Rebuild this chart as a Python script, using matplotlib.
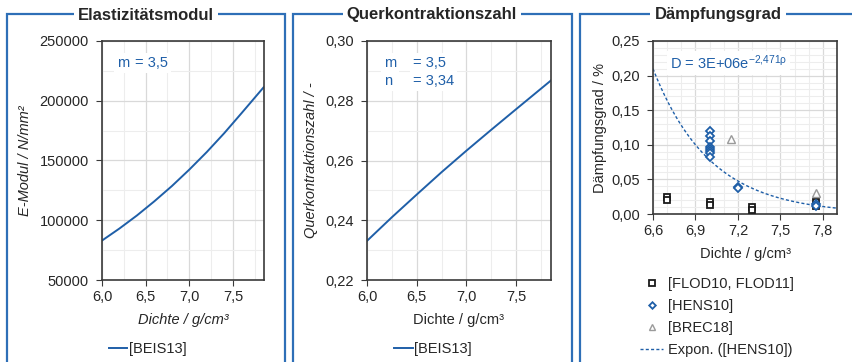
import matplotlib.pyplot as plt
import numpy as np
from matplotlib.patches import Rectangle
from matplotlib.ticker import FuncFormatter, MultipleLocator

plt.rcParams["font.family"] = ["Liberation Sans", "DejaVu Sans"]
plt.rcParams["font.size"] = 10.5
plt.rcParams["mathtext.fontset"] = "custom"
plt.rcParams["mathtext.rm"] = "Liberation Sans"
plt.rcParams["mathtext.it"] = "Liberation Sans:italic"

BLUE = "#1F5FA8"
FRAME = "#2E6FB7"
TEXT = "#262626"
SPINE = "#3A3A3A"

# E-Modul over density (m = 3,5)
density_e = [6.0, 6.2, 6.4, 6.6, 6.8, 7.0, 7.2, 7.4, 7.6, 7.85]
e_modul = [83000, 93100, 104000, 115900, 128600, 142400, 157100, 172900, 189800, 211200]

# Poisson ratio over density
density_nu = [6.0, 6.25, 6.5, 6.75, 7.0, 7.25, 7.5, 7.85]
poisson = [0.2331, 0.2410, 0.2486, 0.2561, 0.2633, 0.2703, 0.2772, 0.2868]

# damping measurements
flod_rho = [6.7, 6.7, 7.0, 7.0, 7.3, 7.3, 7.75, 7.75]
flod_d = [0.024, 0.020, 0.017, 0.013, 0.0095, 0.006, 0.017, 0.012]
hens_rho = [7.0, 7.0, 7.0, 7.0, 7.0, 7.0, 7.0, 7.0, 7.2, 7.2, 7.75, 7.75]
hens_d = [0.120, 0.113, 0.106, 0.097, 0.094, 0.091, 0.088, 0.083, 0.039, 0.037, 0.015, 0.012]
brec_rho = [7.15, 7.75]
brec_d = [0.109, 0.030]

# exponential trendline for [HENS10]
fit_coef = 2.54e6
fit_rate = 2.471

W, H = 853, 362


def px(x, y):
    return x / W, 1 - y / H


def comma(fmt):
    return FuncFormatter(lambda v, _: fmt.format(v).replace(".", ","))


def style_axes(ax, xmajor, xminor, ymajor, yminor):
    ax.xaxis.set_major_locator(MultipleLocator(xmajor))
    ax.xaxis.set_minor_locator(MultipleLocator(xminor))
    ax.yaxis.set_major_locator(MultipleLocator(ymajor))
    ax.yaxis.set_minor_locator(MultipleLocator(yminor))
    ax.grid(True, which="major", color="#D9D9D9", lw=0.9)
    ax.grid(True, which="minor", color="#EDEDED", lw=0.8)
    ax.set_axisbelow(True)
    for sp in ax.spines.values():
        sp.set_color(SPINE)
        sp.set_linewidth(1.2)
    ax.tick_params(which="major", direction="out", length=4, color=SPINE,
                   labelsize=10.5, labelcolor=TEXT)
    ax.tick_params(axis="y", which="major", pad=5.5)
    ax.tick_params(axis="x", which="major", pad=3.5)
    ax.tick_params(which="minor", length=0)


fig = plt.figure(figsize=(W / 100, H / 100), dpi=100)

# panel frames with titles sitting on the top edge
panels = [(7, 285, "Elastizitätsmodul"), (293, 572, "Querkontraktionszahl"),
          (580, 900, "Dämpfungsgrad")]
title_x = [146, 432, 718]
for (x0, x1, title), tx in zip(panels, title_x):
    fig.add_artist(Rectangle(((x0) / W, -0.2), (x1 - x0) / W, (H - 14.5) / H + 0.2,
                             transform=fig.transFigure, fill=False,
                             ec=FRAME, lw=1.6, zorder=1))
    fig.text(*px(tx, 15), title, ha="center", va="center", fontsize=12,
             weight="bold", color=TEXT, zorder=3,
             bbox=dict(fc="white", ec="none", pad=3))

# Elastizitätsmodul
ax1 = fig.add_axes([102 / W, 1 - 280 / H, 162 / W, 239 / H])
ax1.plot(density_e, e_modul, color=BLUE, lw=1.4, label="[BEIS13]")
ax1.set_xlim(6.0, 7.855)
ax1.set_ylim(50000, 250000)
style_axes(ax1, 0.5, 0.25, 50000, 25000)
ax1.xaxis.set_major_formatter(comma("{:.1f}"))
ax1.set_xlabel("Dichte / g/cm³", style="italic", color=TEXT, labelpad=6)
ax1.set_ylabel("E-Modul / N/mm²", style="italic", color=TEXT, labelpad=5)
ax1.text(0.09, 0.907, "m", transform=ax1.transAxes, color=BLUE, va="center",
         bbox=dict(fc="white", ec="none", pad=2))
ax1.text(0.204, 0.907, "= 3,5", transform=ax1.transAxes, color=BLUE, va="center",
         bbox=dict(fc="white", ec="none", pad=2))
ax1.legend(loc="center", bbox_to_anchor=px(147.5, 349), bbox_transform=fig.transFigure,
           frameon=False, handlelength=1.25, handletextpad=0.1, borderpad=0,
           labelcolor=TEXT)

# Querkontraktionszahl
ax2 = fig.add_axes([367 / W, 1 - 280 / H, 184 / W, 239 / H])
ax2.plot(density_nu, poisson, color=BLUE, lw=1.4, label="[BEIS13]")
ax2.set_xlim(6.0, 7.85)
ax2.set_ylim(0.22, 0.30)
style_axes(ax2, 0.5, 0.25, 0.02, 0.01)
ax2.xaxis.set_major_formatter(comma("{:.1f}"))
ax2.yaxis.set_major_formatter(comma("{:.2f}"))
ax2.set_xlabel("Dichte / g/cm³", color=TEXT, labelpad=6)
ax2.set_ylabel("Querkontraktionszahl / -", style="italic", color=TEXT, labelpad=5)
for y, name, val in [(0.907, "m", "= 3,5"), (0.833, "n", "= 3,34")]:
    ax2.text(0.092, y, name, transform=ax2.transAxes, color=BLUE, va="center",
             bbox=dict(fc="white", ec="none", pad=2))
    ax2.text(0.25, y, val, transform=ax2.transAxes, color=BLUE, va="center",
             bbox=dict(fc="white", ec="none", pad=2))
ax2.legend(loc="center", bbox_to_anchor=px(433, 349), bbox_transform=fig.transFigure,
           frameon=False, handlelength=1.25, handletextpad=0.1, borderpad=0,
           labelcolor=TEXT)

# Dämpfungsgrad
ax3 = fig.add_axes([653 / W, 1 - 214 / H, 184 / W, 173 / H])
ax3.plot(flod_rho, flod_d, ls="none", marker="s", ms=5, mfc="white", mec="#1A1A1A",
         mew=1.3, label="[FLOD10, FLOD11]", zorder=3)
ax3.plot(hens_rho, hens_d, ls="none", marker="D", ms=4.2, mfc="white", mec=BLUE,
         mew=1.3, label="[HENS10]", zorder=4)
ax3.plot(brec_rho, brec_d, ls="none", marker="^", ms=6, mfc="white", mec="#9A9A9A",
         mew=1.0, label="[BREC18]", zorder=3)
rho_fit = np.linspace(6.6, 7.9, 120)
ax3.plot(rho_fit, fit_coef * np.exp(-fit_rate * rho_fit), color=BLUE, lw=1.0,
         dashes=(2.2, 1.6), label="Expon. ([HENS10])", zorder=2)
ax3.set_xlim(6.6, 7.9)
ax3.set_ylim(0, 0.25)
style_axes(ax3, 0.3, 0.1, 0.05, 0.01)
ax3.xaxis.set_major_formatter(comma("{:.1f}"))
ax3.yaxis.set_major_formatter(comma("{:.2f}"))
ax3.set_xlabel("Dichte / g/cm³", color=TEXT, labelpad=6)
ax3.set_ylabel("Dämpfungsgrad / %", color=TEXT, labelpad=3)
coef_txt = f"{fit_coef:.0E}"
rate_txt = f"{fit_rate:.3f}".replace(".", "{,}")
ax3.text(0.092, 0.873, f"D = {coef_txt}e$^{{\\mathregular{{-{rate_txt}ρ}}}}$",
         transform=ax3.transAxes, color=BLUE, va="center",
         bbox=dict(fc="white", ec="none", pad=2), zorder=5)
ax3.legend(loc="upper left", bbox_to_anchor=px(640, 277), bbox_transform=fig.transFigure,
           frameon=False, handlelength=1.6, handletextpad=0.3, borderpad=0,
           borderaxespad=0, labelspacing=0.55, numpoints=1, markerscale=0.8,
           labelcolor=TEXT)

fig.savefig("out.png", dpi=100)
